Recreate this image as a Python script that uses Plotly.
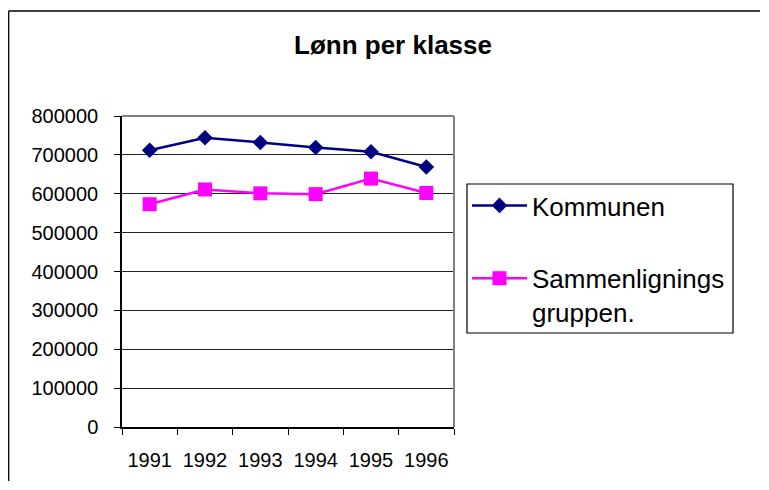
import plotly.graph_objects as go

years = ["1991", "1992", "1993", "1994", "1995", "1996"]
kommunen = [712000, 744000, 732000, 719000, 708000, 669000]
sammen = [573000, 611000, 601000, 599000, 639000, 602000]
title_text = "Lønn per klasse"
name_k = "Kommunen"
name_s = "Sammenlignings<br>gruppen."

# window coordinates; the page body has an 8px margin on every side
OFF = 8
WIN_W, WIN_H = 769, 490
W, H = WIN_W - 2 * OFF, WIN_H - 2 * OFF
PL, PR, PT, PB = 122, 454, 116, 427  # plot area in window pixels
L, T = PL - OFF, PT - OFF
R, B = (WIN_W - OFF) - PR, (WIN_H - OFF) - PB
pw, ph = PR - PL, PB - PT

def px(x):
    return (x - PL) / pw

def py(y):
    return (PB - y) / ph

FONT = "Arial, Liberation Sans, sans-serif"

fig = go.Figure()
fig.add_trace(go.Scatter(
    x=years, y=kommunen, name=name_k, mode="lines+markers",
    line=dict(color="#000080", width=2.5),
    marker=dict(symbol="diamond", size=12, color="#000080"),
    legendgroup="a",
))
fig.add_trace(go.Scatter(
    x=years, y=sammen, name=name_s, mode="lines+markers",
    line=dict(color="#FF00FF", width=2.5),
    marker=dict(symbol="square", size=14, color="#FF00FF"),
    legendgroup="b",
))

frame = dict(color="black", width=1.3)
shapes = [
    # outer chart frame: top and left edges (others lie outside the window)
    dict(type="line", xref="paper", yref="paper",
         x0=px(8.7), x1=px(760), y0=py(11), y1=py(11), line=frame),
    dict(type="line", xref="paper", yref="paper",
         x0=px(8.7), x1=px(8.7), y0=py(11), y1=py(481), line=frame),
    # plot area top and right borders (gray)
    dict(type="line", xref="paper", yref="paper", x0=0, x1=1, y0=1, y1=1,
         line=dict(color="#808080", width=2)),
    dict(type="line", xref="paper", yref="paper", x0=1, x1=1, y0=0, y1=1,
         line=dict(color="#808080", width=2)),
    # legend box
    dict(type="rect", xref="paper", yref="paper",
         x0=px(467), x1=px(733), y0=py(333), y1=py(184),
         line=dict(color="black", width=1.2)),
]

fig.update_layout(
    width=W, height=H,
    margin=dict(l=L, r=R, t=T, b=B),
    paper_bgcolor="white", plot_bgcolor="white",
    font=dict(family=FONT, color="black", size=20),
    title=dict(text="<b>" + title_text + "</b>", xref="paper", x=px(393),
               xanchor="center", yref="container", y=1 - (45 - OFF) / H,
               yanchor="middle", font=dict(size=26, family=FONT)),
    showlegend=True,
    legend=dict(x=px(467), xanchor="left", y=py(182), yanchor="top",
                font=dict(size=26, family=FONT), borderwidth=0,
                bgcolor="rgba(0,0,0,0)", traceorder="grouped",
                tracegroupgap=36, valign="top", itemwidth=55),
    shapes=shapes,
)
fig.update_xaxes(
    type="category", range=[-0.5, 5.5], tickson="boundaries",
    ticks="outside", ticklen=6, tickcolor="black", tickwidth=1,
    showline=True, linecolor="black", linewidth=1.5,
    showgrid=False, ticklabelstandoff=14,
    tickfont=dict(size=20, family=FONT),
)
fig.update_yaxes(
    range=[0, 800000], dtick=100000, tickformat="d",
    ticks="outside", ticklen=6, tickcolor="black", tickwidth=1,
    showline=True, linecolor="black", linewidth=1.5,
    showgrid=True, gridcolor="#222222", gridwidth=1,
    zeroline=False, ticklabelstandoff=12,
    tickfont=dict(size=20, family=FONT),
)

fig.write_html("out.html")
